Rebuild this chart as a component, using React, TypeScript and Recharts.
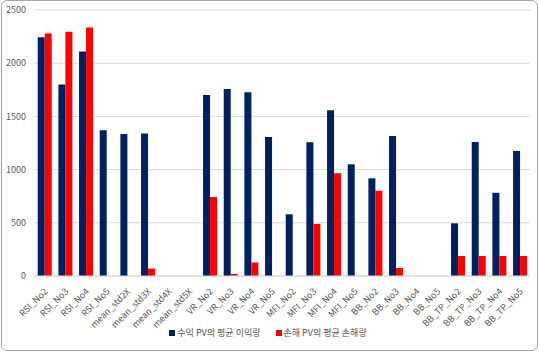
import { BarChart, Bar, XAxis, YAxis, CartesianGrid, Legend } from "recharts";

const categories = [
  "RSI_No2", "RSI_No3", "RSI_No4", "RSI_No5",
  "mean_std2X", "mean_std3X", "mean_std4X", "mean_std5X",
  "VR_No2", "VR_No3", "VR_No4", "VR_No5",
  "MFI_No2", "MFI_No3", "MFI_No4", "MFI_No5",
  "BB_No2", "BB_No3", "BB_No4", "BB_No5",
  "BB_TP_No2", "BB_TP_No3", "BB_TP_No4", "BB_TP_No5",
];

const profit = [
  2245, 1800, 2110, 1370,
  1335, 1340, 0, 0,
  1700, 1757, 1726, 1306,
  580, 1256, 1557, 1050,
  918, 1316, 0, 0,
  495, 1260, 782, 1176,
];

const loss = [
  2280, 2295, 2335, 0,
  0, 70, 0, 0,
  742, 20, 128, 0,
  0, 490, 966, 0,
  802, 76, 0, 0,
  188, 188, 188, 188,
];

const yTicks = [0, 500, 1000, 1500, 2000, 2500];

const PROFIT_NAME = "수익 PV의 평균 이익량";
const LOSS_NAME = "손해 PV의 평균 손해량";

const data = categories.map((name, i) => ({ name, profit: profit[i], loss: loss[i] }));

const font = "'Malgun Gothic', 'Noto Sans CJK KR', 'Noto Sans', sans-serif";

function AngledTick(props: any) {
  const { x, y, payload } = props;
  return (
    <text
      x={x + 4}
      y={y + 8}
      transform={`rotate(-45, ${x + 4}, ${y + 8})`}
      textAnchor="end"
      fill="#595959"
      fontSize={9}
      fontFamily={font}
    >
      {payload.value}
    </text>
  );
}

function LegendBox() {
  const items = [
    { label: PROFIT_NAME, color: "#002060" },
    { label: LOSS_NAME, color: "#ff0000" },
  ];
  return (
    <div style={{ display: "flex", justifyContent: "center", gap: 15, fontFamily: font, fontSize: 9, color: "#595959", paddingLeft: 6 }}>
      {items.map((it) => (
        <span key={it.label} style={{ display: "flex", alignItems: "center" }}>
          <span style={{ width: 6, height: 6, background: it.color, display: "inline-block", marginRight: 2 }} />
          {it.label}
        </span>
      ))}
    </div>
  );
}

export default function App() {
  return (
    <div style={{ position: "absolute", left: 0, top: 0, width: 539, height: 352, background: "#fff" }}>
      <div
        style={{
          position: "absolute",
          left: 1,
          top: 0,
          width: 535,
          height: 349,
          border: "1px solid #a6a6a6",
          borderRadius: 6,
        }}
      />
      <BarChart
        width={539}
        height={352}
        data={data}
        margin={{ top: 10, right: 9, left: 0, bottom: 6 }}
        barCategoryGap="18%"
        barGap={0}
      >
        <CartesianGrid vertical={false} stroke="#d9d9d9" />
        <XAxis
          dataKey="name"
          interval={0}
          tick={<AngledTick />}
          tickLine={false}
          axisLine={{ stroke: "#d9d9d9" }}
          height={50}
        />
        <YAxis
          width={34}
          domain={[0, 2500]}
          ticks={yTicks}
          axisLine={false}
          tickLine={false}
          tick={{ fill: "#595959", fontSize: 9, fontFamily: font }}
        />
        <Legend verticalAlign="bottom" height={20} content={<LegendBox />} />
        <Bar dataKey="profit" name={PROFIT_NAME} fill="#002060" isAnimationActive={false} />
        <Bar dataKey="loss" name={LOSS_NAME} fill="#ff0000" isAnimationActive={false} />
      </BarChart>
    </div>
  );
}
